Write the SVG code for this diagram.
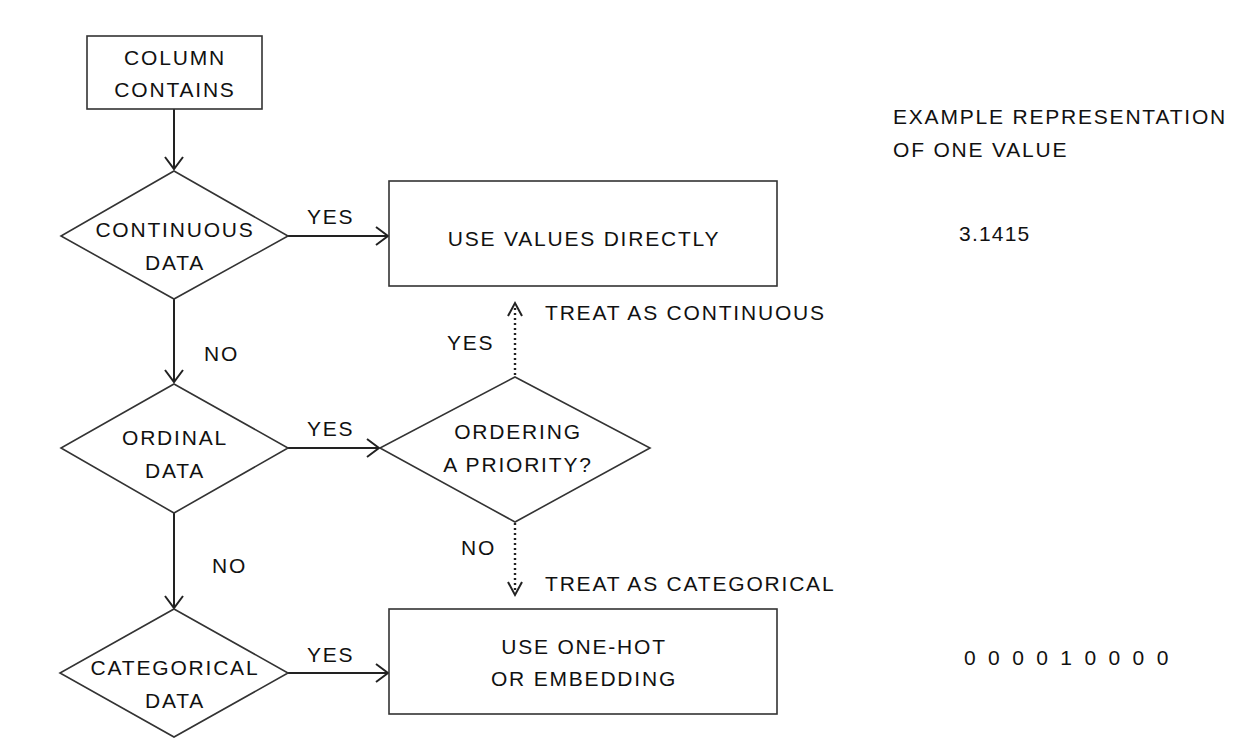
<svg xmlns="http://www.w3.org/2000/svg" width="1245" height="749" viewBox="0 0 1245 749">
<style>
.node{fill:#fff;stroke:#333;stroke-width:1.6}
.t{font-family:"Liberation Sans",Arial,sans-serif;font-size:21px;fill:#111;text-anchor:middle;letter-spacing:1.8px}
.l{font-family:"Liberation Sans",Arial,sans-serif;font-size:21px;fill:#111;letter-spacing:1.8px}
.c{fill:none;stroke:#222;stroke-width:2}
.d{fill:none;stroke:#222;stroke-width:2.4;stroke-dasharray:2 3}
</style>
<defs>
<marker id="ah" viewBox="0 0 20 20" refX="18" refY="10" markerWidth="20" markerHeight="20" markerUnits="userSpaceOnUse" orient="auto">
<path d="M6,1 L18,10 L6,19" fill="none" stroke="#222" stroke-width="2"/>
</marker>
</defs>
<rect width="1245" height="749" fill="#fff"/>
<g id="connectors">
<line class="c" x1="174" y1="109" x2="174" y2="169" marker-end="url(#ah)"/>
<line class="c" x1="288" y1="236" x2="388" y2="236" marker-end="url(#ah)"/>
<line class="c" x1="174" y1="299" x2="174" y2="382" marker-end="url(#ah)"/>
<line class="c" x1="288" y1="448" x2="379" y2="448" marker-end="url(#ah)"/>
<line class="c" x1="174" y1="513" x2="174" y2="608" marker-end="url(#ah)"/>
<line class="c" x1="288" y1="673" x2="388" y2="673" marker-end="url(#ah)"/>
<line class="d" x1="515" y1="375" x2="515" y2="305"/>
<path d="M508,316 L515,303 L522,316" fill="none" stroke="#222" stroke-width="2"/>
<line class="d" x1="515" y1="523" x2="515" y2="592"/>
<path d="M508,582 L515,595 L522,582" fill="none" stroke="#222" stroke-width="2"/>
<text class="l" x="307" y="224">YES</text>
<text class="l" x="204" y="361">NO</text>
<text class="l" x="307" y="436">YES</text>
<text class="l" x="212" y="573">NO</text>
<text class="l" x="307" y="662">YES</text>
<text class="l" x="447" y="350">YES</text>
<text class="l" x="461" y="555">NO</text>
<text class="l" x="545" y="320">TREAT AS CONTINUOUS</text>
<text class="l" x="545" y="591">TREAT AS CATEGORICAL</text>
</g>
<g id="column-contains">
<rect class="node" x="87" y="36" width="175" height="73"/>
<text class="t" x="175" y="65">COLUMN</text>
<text class="t" x="175" y="97">CONTAINS</text>
</g>
<g id="continuous-data">
<polygon class="node" points="174,171 288,236 174,299 61,236"/>
<text class="t" x="175" y="237">CONTINUOUS</text>
<text class="t" x="175" y="270">DATA</text>
</g>
<g id="use-values-directly">
<rect class="node" x="389" y="181" width="388" height="105"/>
<text class="t" x="584" y="246">USE VALUES DIRECTLY</text>
</g>
<g id="ordinal-data">
<polygon class="node" points="174,384 288,448 174,513 61,448"/>
<text class="t" x="175" y="445">ORDINAL</text>
<text class="t" x="175" y="478">DATA</text>
</g>
<g id="ordering-priority">
<polygon class="node" points="515,377 650,448 515,522 380,448"/>
<text class="t" x="518" y="439">ORDERING</text>
<text class="t" x="518" y="472">A PRIORITY?</text>
</g>
<g id="categorical-data">
<polygon class="node" points="174,609 288,673 174,737 60,673"/>
<text class="t" x="175" y="675">CATEGORICAL</text>
<text class="t" x="175" y="708">DATA</text>
</g>
<g id="use-one-hot">
<rect class="node" x="389" y="609" width="388" height="105"/>
<text class="t" x="584" y="654">USE ONE-HOT</text>
<text class="t" x="584" y="686">OR EMBEDDING</text>
</g>
<g id="examples">
<text class="l" x="893" y="124">EXAMPLE REPRESENTATION</text>
<text class="l" x="893" y="157">OF ONE VALUE</text>
<text class="l" x="959" y="241" style="letter-spacing:1.2px">3.1415</text>
<text class="l" x="964" y="665" style="letter-spacing:12.4px">000010000</text>
</g>
</svg>
